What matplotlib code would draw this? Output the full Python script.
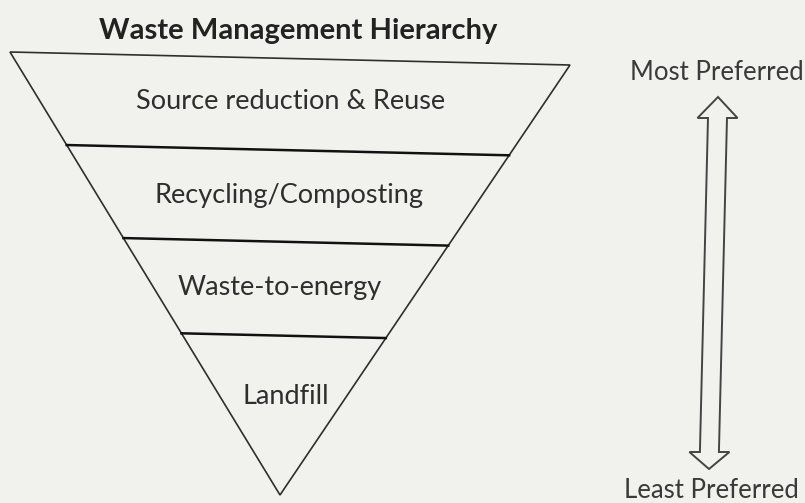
import numpy as np
import matplotlib.pyplot as plt
from matplotlib.patches import Polygon

# ---- chart content ----
title = 'Waste Management Hierarchy'
levels = ['Source reduction & Reuse', 'Recycling/Composting', 'Waste-to-energy', 'Landfill']
level_label_xy = [(291, 101), (289, 195), (280, 288), (286, 397)]
separator_fracs = [0.21, 0.42, 0.635]          # position of divider lines along the sides
top_label = 'Most Preferred'
bottom_label = 'Least Preferred'

# triangle corners (scanned page coordinates, pixels)
top_left = np.array([10, 52])
top_right = np.array([570, 65])
apex = np.array([280, 495])

ink = '#2e2e2e'
paper = '#f1f1ee'

fig = plt.figure(figsize=(8.05, 5.03), dpi=100, facecolor=paper)
ax = fig.add_axes([0, 0, 1, 1])
ax.set_xlim(0, 805)
ax.set_ylim(503, 0)
ax.axis('off')
ax.set_facecolor(paper)

# inverted triangle
tri = Polygon([top_left, top_right, apex], closed=True, fill=False, edgecolor=ink, lw=1.2)
ax.add_patch(tri)

# dividers
for f in separator_fracs:
    left = top_left + f * (apex - top_left)
    right = top_right + f * (apex - top_right)
    ax.plot([left[0], right[0]], [left[1], right[1]], color='#111111', lw=1.8)

for name, (x, y) in zip(levels, level_label_xy):
    ax.text(x, y, name, ha='center', va='center', fontsize=19.5, family='Lato', color=ink)

ax.text(298, 31, title, ha='center', va='center', fontsize=21, family='Lato',
        fontweight='bold', color='#222222')

# hollow double-headed arrow
top_tip = np.array([718, 97])
bot_tip = np.array([709, 469])
head_len, head_hw, shaft_hw = 21, 20, 9.5
def cx(y):
    return top_tip[0] + (y - top_tip[1]) / (bot_tip[1] - top_tip[1]) * (bot_tip[0] - top_tip[0])
yt, yb = top_tip[1] + head_len, bot_tip[1] - head_len + 4
verts = [
    (top_tip[0], top_tip[1]),
    (cx(yt) + head_hw, yt), (cx(yt) + shaft_hw, yt),
    (cx(yb) + shaft_hw, yb), (cx(yb) + head_hw, yb),
    (bot_tip[0], bot_tip[1]),
    (cx(yb) - head_hw, yb), (cx(yb) - shaft_hw, yb),
    (cx(yt) - shaft_hw, yt), (cx(yt) - head_hw, yt),
]
ax.add_patch(Polygon(verts, closed=True, fill=False, edgecolor='#444444', lw=1.4))

ax.text(717, 72, top_label, ha='center', va='center', fontsize=18.5, family='Lato', color='#3a3a3a')
ax.text(711, 490, bottom_label, ha='center', va='center', fontsize=18.5, family='Lato', color='#3a3a3a')

fig.savefig('out.png', dpi=100, facecolor=paper)
